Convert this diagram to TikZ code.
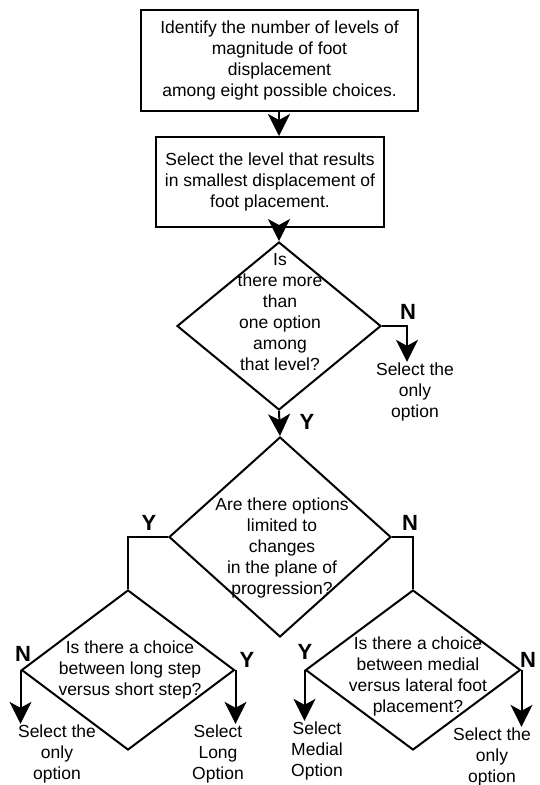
\documentclass[tikz,border=0pt]{standalone}
\usepackage{fontspec}
\setmainfont{Liberation Sans}
\usetikzlibrary{arrows.meta,shapes.geometric}
\begin{document}
\begin{tikzpicture}[x=1pt,y=-1pt,
  line width=2pt,
  txt/.style={align=center,inner sep=0pt,font=\fontsize{17.5}{21}\selectfont},
  box/.style={draw,rectangle,align=center,inner sep=0pt,font=\fontsize{17.5}{21}\selectfont},
  dia/.style={draw,diamond,inner sep=0pt},
  lab/.style={inner sep=0pt,font=\fontsize{22}{24}\selectfont\bfseries},
  arr/.style={-{Stealth[length=22pt,width=22pt,inset=6pt]}}]
\useasboundingbox (0,0) rectangle (539,785);
% boxes
\node[box,minimum width=277pt,minimum height=101pt] (b1) at (279.5,60.5)
  {Identify the number of levels of\\magnitude of foot\\displacement\\among eight possible choices.};
\node[box,minimum width=228pt,minimum height=90pt] (b2) at (270,182)
  {Select the level that results\\in smallest displacement of\\foot placement.};
% diamonds
\node[dia,minimum width=204pt,minimum height=168pt] (d1) at (279,326) {};
\node[txt] (t1) at (280,312) {Is\\there more\\than\\one option\\among\\that level?};
\node[dia,minimum width=222pt,minimum height=200pt] (d2) at (280,537) {};
\node[txt] (t2) at (282,548) {Are there options\\limited to\\changes\\in the plane of\\progression?};
\node[dia,minimum width=213pt,minimum height=160pt] (d3) at (128,670) {};
\node[txt] (t3) at (130,670) {Is there a choice\\between long step\\versus short step?};
\node[dia,minimum width=215pt,minimum height=160pt] (d4) at (413,670) {};
\node[txt] (t4) at (418,676) {Is there a choice\\between medial\\versus lateral foot\\placement?};
% outcomes
\node[txt] (o1) at (415,392) {Select the\\only\\option};
\node[txt] (o3) at (57,754) {Select the\\only\\option};
\node[txt] (o3y) at (218,754) {Select\\Long\\Option};
\node[txt] (o4y) at (317,751) {Select\\Medial\\Option};
\node[txt] (o4) at (492,757) {Select the\\only\\option};
% labels
\node[lab] (ln1) at (408,312) {N};
\node[lab] (ly1) at (307,422) {Y};
\node[lab] (ly2) at (149,523) {Y};
\node[lab] (ln2) at (410,523) {N};
\node[lab] (ln3) at (23,654) {N};
\node[lab] (ly3) at (247,660) {Y};
\node[lab] (ly4) at (305,652) {Y};
\node[lab] (ln4) at (528,660) {N};
% connectors
\coordinate (c1) at (407,326);
\draw[arr] (d1.north |- b1.south) -- (d1.north |- b2.north);
\draw[arr] (d1.north |- b2.south) -- (d1.north);
\draw[arr] (d1.east) -- (c1) -- (c1 |- o1.north);
\draw[arr] (d1.south) -- (d2.north);
\draw (d2.west) -| (d3.north);
\draw (d2.east) -| (d4.north);
\draw[arr] (d3.west) -- (d3.west |- o3.north);
\draw[arr] (d3.east) -- (d3.east |- o3y.north);
\draw[arr] (d4.west) -- (d4.west |- o4y.north);
\draw[arr] (d4.east) -- (d4.east |- o4.north);
\end{tikzpicture}
\end{document}
